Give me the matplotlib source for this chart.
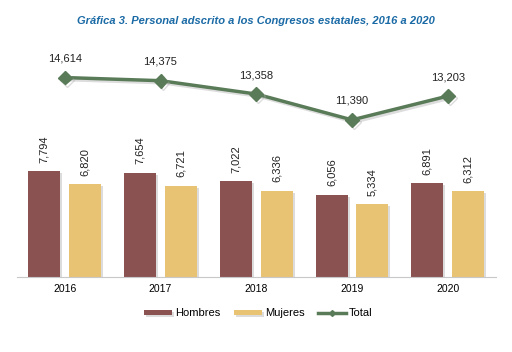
import matplotlib.pyplot as plt
import matplotlib.patheffects as pe
from matplotlib.lines import Line2D
import numpy as np

# data
years = ["2016", "2017", "2018", "2019", "2020"]
hombres = [7794, 7654, 7022, 6056, 6891]
mujeres = [6820, 6721, 6336, 5334, 6312]
total = [14614, 14375, 13358, 11390, 13203]

plt.rcParams['font.family'] = ['Liberation Sans', 'DejaVu Sans']

fig = plt.figure(figsize=(5.12, 3.52), dpi=100)
ax = fig.add_axes([0.033, 0.213, 0.935, 0.617])

x = np.arange(len(years))
w = 0.333
shadow = [pe.SimplePatchShadow(offset=(1.5, -1.5), shadow_rgbFace='#bbbbbb', alpha=0.5), pe.Normal()]

b1 = ax.bar(x - 0.213, hombres, w, color='#8B5252', label='Hombres', path_effects=shadow)
b2 = ax.bar(x + 0.213, mujeres, w, color='#E8C374', label='Mujeres', path_effects=shadow)

for bars, vals in [(b1, hombres), (b2, mujeres)]:
    for r, v in zip(bars, vals):
        ax.annotate(f"{v:,}", (r.get_x() + r.get_width() / 2, v), xytext=(0, 6),
                    textcoords='offset points', rotation=90, ha='center', va='bottom',
                    fontsize=8, color='#222222')

ax.set_xlim(-0.5, len(years) - 0.5)
ax.set_ylim(0, 15950)
ax.set_xticks(x)
ax.set_xticklabels(years, fontsize=7.5)
ax.tick_params(axis='x', length=0, pad=5)
ax.set_yticks([])
for s in ['top', 'left', 'right']:
    ax.spines[s].set_visible(False)
ax.spines['bottom'].set_color('#c8c8c8')

# total on a second axis
ax2 = ax.twinx()
line_shadow = [pe.SimpleLineShadow(offset=(1.5, -1.5), shadow_color='#aaaaaa', alpha=0.4), pe.Normal()]
ln, = ax2.plot(x, total, color='#5A7B58', lw=2.5, marker='D', markersize=7,
               label='Total', path_effects=line_shadow)
for xi, v in zip(x, total):
    ax2.annotate(f"{v:,}", (xi, v), xytext=(0, 10), textcoords='offset points',
                 ha='center', va='bottom', fontsize=8, color='#222222')
ax2.set_ylim(-577, 15963)
ax2.set_yticks([])
for s in ['top', 'left', 'right', 'bottom']:
    ax2.spines[s].set_visible(False)

fig.text(0.5, 0.94, "Gráfica 3. Personal adscrito a los Congresos estatales, 2016 a 2020",
         ha='center', va='center', fontsize=8, fontweight='bold', fontstyle='italic',
         color='#1A6AA6')

leg_line = Line2D([], [], color='#5A7B58', lw=2.5, marker='D', markersize=3)
fig.legend(handles=[b1, b2, leg_line], labels=['Hombres', 'Mujeres', 'Total'],
           loc='center', bbox_to_anchor=(0.505, 0.11), ncol=3,
           frameon=False, fontsize=8, handlelength=2.5, handleheight=0.4,
           columnspacing=1.2, handletextpad=0.3)

fig.savefig('out.png', dpi=100)
